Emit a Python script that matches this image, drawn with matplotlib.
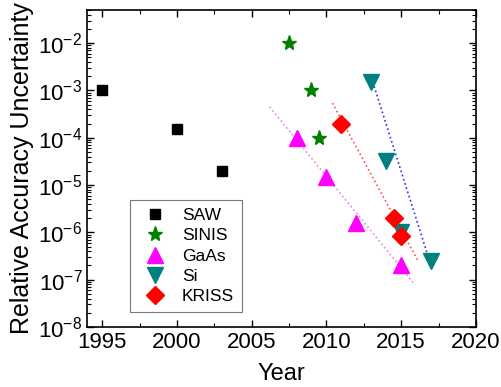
import matplotlib.pyplot as plt
from matplotlib.ticker import FixedLocator, LogLocator, MultipleLocator, NullFormatter

plt.rcParams['font.family'] = ['Liberation Sans', 'DejaVu Sans']

# data
saw_year = [1995, 2000, 2003]
saw_unc = [1e-3, 1.5e-4, 2e-5]

sinis_year = [2007.5, 2009, 2009.5]
sinis_unc = [1e-2, 1e-3, 1e-4]

gaas_year = [2008, 2010, 2012, 2015]
gaas_unc = [1e-4, 1.5e-5, 1.6e-6, 2e-7]

si_year = [2013, 2014, 2015, 2017]
si_unc = [1.5e-3, 3.3e-5, 1e-6, 2.5e-7]

kriss_year = [2011, 2014.5, 2015]
kriss_unc = [2e-4, 2e-6, 8.5e-7]

# trend lines (end points)
gaas_fit_x = [2006.2, 2015.9]
gaas_fit_y = [4.5e-4, 8e-8]
kriss_fit_x = [2010.4, 2016.1]
kriss_fit_y = [5.4e-4, 2.6e-7]
si_fit_x = [2013.1, 2016.9]
si_fit_y = [1.5e-3, 2.5e-7]

y_major = [1e-8, 1e-7, 1e-6, 1e-5, 1e-4, 1e-3, 1e-2]

fig, ax = plt.subplots(figsize=(5.01, 3.87), dpi=100)
fig.subplots_adjust(left=0.174, right=0.95, top=0.974, bottom=0.155)

ax.plot(gaas_fit_x, gaas_fit_y, ':', color='violet', lw=1.2)
ax.plot(kriss_fit_x, kriss_fit_y, ':', color='#ff5050', lw=1.2)
ax.plot(si_fit_x, si_fit_y, ':', color='#3030e0', lw=1.2)

ax.plot(saw_year, saw_unc, 's', color='black', ms=7.5, ls='none', label='SAW')
ax.plot(sinis_year, sinis_unc, '*', color='green', ms=11, ls='none', label='SINIS')
ax.plot(gaas_year, gaas_unc, '^', color='magenta', ms=11, ls='none', label='GaAs')
ax.plot(si_year, si_unc, 'v', color='teal', ms=11, ls='none', label='Si')
ax.plot(kriss_year, kriss_unc, 'D', color='red', ms=9, ls='none', label='KRISS')

ax.set_yscale('log')
ax.set_xlim(1994, 2020)
ax.set_ylim(1e-8, 5e-2)
ax.xaxis.set_major_locator(MultipleLocator(5))
ax.xaxis.set_minor_locator(MultipleLocator(2.5))
ax.yaxis.set_major_locator(FixedLocator(y_major))
ax.yaxis.set_minor_locator(LogLocator(base=10, subs=range(2, 10), numticks=20))
ax.yaxis.set_minor_formatter(NullFormatter())

ax.tick_params(which='both', direction='in', top=True, right=True, labelsize=16)
ax.tick_params(which='major', length=5, width=1)
ax.tick_params(which='minor', length=3, width=0.8)
for s in ax.spines.values():
    s.set_linewidth(1.2)

ax.set_xlabel('Year', fontsize=17, labelpad=7)
ax.set_ylabel('Relative Accuracy Uncertainty', fontsize=18, labelpad=3)

leg = ax.legend(loc='lower left', bbox_to_anchor=(0.11, 0.047), borderaxespad=0,
                fontsize=12.5, frameon=True, fancybox=False, edgecolor='#555555',
                handlelength=2.0, handletextpad=0.55, borderpad=0.45,
                labelspacing=0.3)
leg.get_frame().set_linewidth(0.8)

fig.savefig('out.png')
